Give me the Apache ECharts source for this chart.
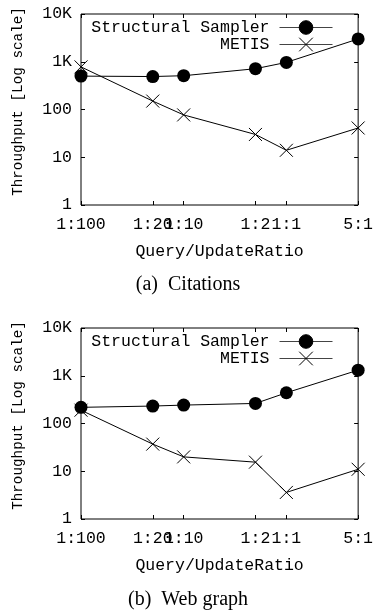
<!DOCTYPE html>
<html>
<head>
<meta charset="utf-8">
<script src="https://cdn.jsdelivr.net/npm/echarts@6/dist/echarts.min.js"></script>
<style>
  html, body { margin: 0; padding: 0; background: #fff; }
  #chart { width: 376px; height: 610px; }
</style>
</head>
<body>
<div id="chart"></div>
<script type="text/javascript">
  // query/update ratios (x positions on a log axis) and their labels
  var ratios = [0.01, 0.05, 0.1, 0.5, 1, 5];
  var ratioLabels = ['1:100', '1:20', '1:10', '1:2', '1:1', '5:1'];
  var yTicks = [1, 10, 100, 1000, 10000];
  var yTickLabels = ['1', '10', '100', '1K', '10K'];

  // (a) Citations
  var citSampler = [500, 490, 510, 715, 970, 3000];
  var citMetis = [780, 150, 77, 30, 14, 41];
  // (b) Web graph
  var webSampler = [218, 232, 243, 263, 440, 1310];
  var webMetis = [190, 37, 20, 15.5, 3.6, 11];

  var MONO = '"Liberation Mono", "DejaVu Sans Mono", monospace';
  var SERIF = '"Liberation Serif", "DejaVu Serif", serif';
  var X_SYMBOL = 'path://M0,0L10,10M10,0L0,10';

  function pairs(xs, ys) {
    return xs.map(function (x, i) { return [x, ys[i]]; });
  }
  function ratioLabel(v) {
    for (var i = 0; i < ratios.length; i++) {
      if (Math.abs(Math.log(v) - Math.log(ratios[i])) < 1e-6) return ratioLabels[i];
    }
    return '';
  }
  function yLabel(v) {
    for (var i = 0; i < yTicks.length; i++) {
      if (Math.abs(v - yTicks[i]) < 1e-6 * yTicks[i]) return yTickLabels[i];
    }
    return '';
  }

  function xAxis(grid, pos, labels) {
    return {
      type: 'log', logBase: 10, gridIndex: grid, position: pos,
      min: 0.01, max: 5,
      name: labels ? 'Query/UpdateRatio' : '',
      nameLocation: 'middle', nameGap: 38,
      nameTextStyle: { fontFamily: MONO, fontSize: 16.5, color: '#000' },
      axisLine: { show: false, onZero: false },
      axisTick: { show: true, inside: true, length: 4, customValues: ratios,
                  lineStyle: { color: '#000', width: 1 } },
      axisLabel: { show: labels, customValues: ratios, margin: 11,
                   fontFamily: MONO, fontSize: 16.5, color: '#000',
                   formatter: ratioLabel },
      splitLine: { show: false }, minorTick: { show: false }
    };
  }
  function yAxis(grid, pos, labels) {
    return {
      type: 'log', logBase: 10, gridIndex: grid, position: pos,
      min: 1, max: 10000,
      name: labels ? 'Throughput [Log scale]' : '',
      nameLocation: 'middle', nameGap: 56,
      nameTextStyle: { fontFamily: MONO, fontSize: 14.3, color: '#000', padding: [0, 0, 0, 16] },
      axisLine: { show: false },
      axisTick: { show: true, inside: true, length: 4, customValues: yTicks,
                  lineStyle: { color: '#000', width: 1 } },
      axisLabel: { show: labels, customValues: yTicks, margin: 9,
                   fontFamily: MONO, fontSize: 16.5, color: '#000',
                   formatter: yLabel },
      splitLine: { show: false }, minorTick: { show: false }
    };
  }
  function samplerSeries(xi, data) {
    return {
      name: 'Structural Sampler', type: 'line',
      xAxisIndex: xi, yAxisIndex: xi, clip: false,
      data: pairs(ratios, data),
      symbol: 'circle', symbolSize: 13,
      itemStyle: { color: '#000' },
      lineStyle: { color: '#000', width: 1 }
    };
  }
  function metisSeries(xi, data) {
    return {
      name: 'METIS', type: 'line',
      xAxisIndex: xi, yAxisIndex: xi, clip: false,
      data: pairs(ratios, data),
      symbol: X_SYMBOL, symbolSize: 13,
      itemStyle: { color: 'rgba(0,0,0,0)', borderColor: '#000', borderWidth: 1 },
      lineStyle: { color: '#000', width: 1 }
    };
  }
  function legend(top) {
    return {
      orient: 'vertical', right: 38, top: top, align: 'right',
      itemWidth: 53, itemHeight: 17, itemGap: 0,
      itemStyle: { borderWidth: 1, borderColor: '#000' },
      lineStyle: { width: 1, color: '#444' },
      data: ['Structural Sampler', 'METIS'],
      textStyle: { fontFamily: MONO, fontSize: 16.5, lineHeight: 17, color: '#000', padding: [0, 5, 0, 0] }
    };
  }

  var myChart = echarts.init(document.getElementById('chart'), null, { renderer: 'canvas' });
  var option = {
    animation: false,
    backgroundColor: '#fff',
    title: [
      { text: '(a)  Citations', left: 'center', top: 270,
        textStyle: { fontFamily: SERIF, fontSize: 20, fontWeight: 'normal', color: '#000' } },
      { text: '(b)  Web graph', left: 'center', top: 585,
        textStyle: { fontFamily: SERIF, fontSize: 20, fontWeight: 'normal', color: '#000' } }
    ],
    legend: [legend(14), legend(328)],
    grid: [
      { left: 81, right: 17, top: 14, height: 191, show: true,
        borderColor: '#000', borderWidth: 1, backgroundColor: 'transparent' },
      { left: 81, right: 17, top: 328, height: 191, show: true,
        borderColor: '#000', borderWidth: 1, backgroundColor: 'transparent' }
    ],
    xAxis: [xAxis(0, 'bottom', true), xAxis(0, 'top', false),
            xAxis(1, 'bottom', true), xAxis(1, 'top', false)],
    yAxis: [yAxis(0, 'left', true), yAxis(0, 'right', false),
            yAxis(1, 'left', true), yAxis(1, 'right', false)],
    series: [
      samplerSeries(0, citSampler), metisSeries(0, citMetis),
      samplerSeries(2, webSampler), metisSeries(2, webMetis)
    ]
  };
  myChart.setOption(option);
</script>
</body>
</html>
